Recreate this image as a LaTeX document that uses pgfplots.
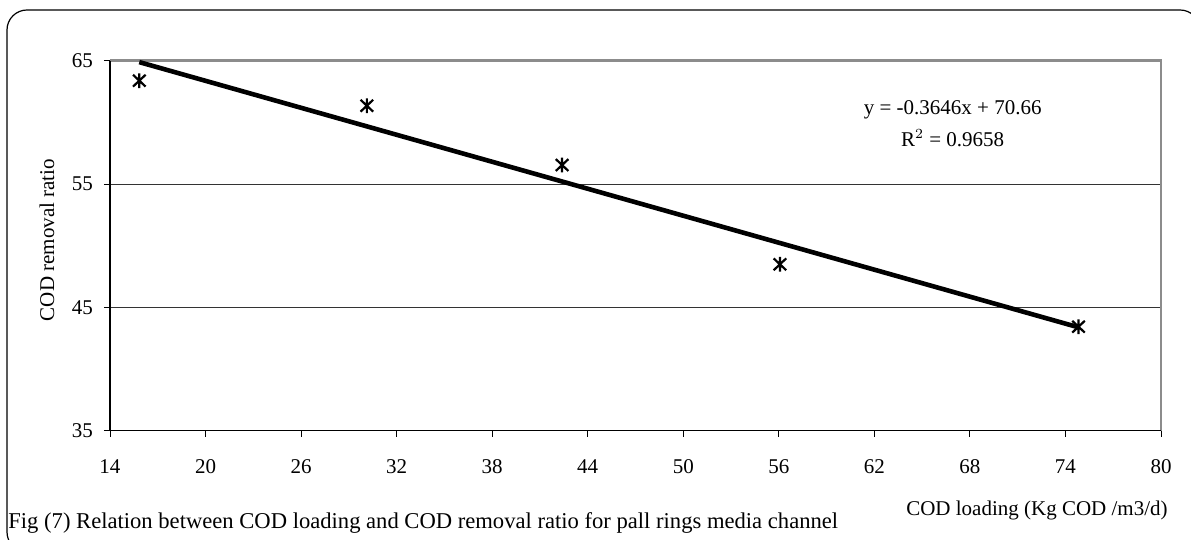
\documentclass[border=0pt]{standalone}
\usepackage{pgfplots}
\pgfplotsset{compat=1.18}
\usepackage{fontspec}
\setmainfont{Liberation Serif}

\pgfdeclareplotmark{xstar}{%
  \pgfpathmoveto{\pgfqpoint{0pt}{-\pgfplotmarksize}}%
  \pgfpathlineto{\pgfqpoint{0pt}{\pgfplotmarksize}}%
  \pgfpathmoveto{\pgfqpoint{-0.85\pgfplotmarksize}{-0.8\pgfplotmarksize}}%
  \pgfpathlineto{\pgfqpoint{0.85\pgfplotmarksize}{0.8\pgfplotmarksize}}%
  \pgfpathmoveto{\pgfqpoint{-0.85\pgfplotmarksize}{0.8\pgfplotmarksize}}%
  \pgfpathlineto{\pgfqpoint{0.85\pgfplotmarksize}{-0.8\pgfplotmarksize}}%
  \pgfusepathqstroke}

\pgfplotstableread{
x y
15.84 63.38
30.13 61.35
42.39 56.54
56.07 48.49
74.82 43.43
}\measured

\pgfplotstableread{
x y
15.84 64.885
74.82 43.381
}\trend

\begin{document}
\begin{tikzpicture}[font=\fontsize{10.5bp}{12.5bp}\selectfont]
\useasboundingbox (0,0) rectangle (595.5bp,270bp);
\draw[line width=0.6bp, rounded corners=10bp] (3.5bp,-6bp) rectangle (600bp,265bp);
\begin{axis}[
  at={(55bp,54.65bp)}, anchor=south west,
  scale only axis, width=525.5bp, height=185bp,
  xmin=14, xmax=80, ymin=35, ymax=65,
  xtick={14,20,...,80}, ytick={35,45,55,65},
  tick pos=left, tick align=outside,
  major tick length=3bp,
  tick style={black, line width=0.5bp},
  axis line style={draw=none},
  ymajorgrids, grid style={line width=0.5bp, black!80},
  /pgf/number format/assume math mode=true,
  ticklabel style={font=\fontsize{10.5bp}{12.5bp}\selectfont},
  xticklabel style={yshift=-8bp},
  yticklabel style={xshift=-2bp},
  clip=false,
]
\draw[gray!90, line width=1.2bp] (rel axis cs:0,1) -- (rel axis cs:1,1) -- (rel axis cs:1,0);
\draw[black, line width=0.6bp] (rel axis cs:0,1) -- (rel axis cs:0,0) -- (rel axis cs:1,0);
\addplot[black, line width=2.3bp, no marks] table[x=x, y=y] {\trend};
\addplot[only marks, mark=xstar, mark size=3.7bp, mark options={line width=1.1bp, black}] table[x=x, y=y] {\measured};
\node[align=center, font=\fontsize{10.5bp}{16bp}\selectfont] at (axis cs:66.92,59.9) {y = -0.3646x + 70.66\\R$^{2}$ = 0.9658};
\end{axis}
\node[rotate=90] at (23.5bp,150bp) {COD removal ratio};
\node[anchor=east, inner sep=0pt] at (584bp,15bp) {COD loading (Kg COD /m3/d)};
\node[anchor=west, inner sep=0pt, font=\fontsize{11.3bp}{13bp}\selectfont] at (4bp,8.5bp) {Fig (7) Relation between COD loading and COD removal ratio for pall rings media channel};
\end{tikzpicture}
\end{document}
